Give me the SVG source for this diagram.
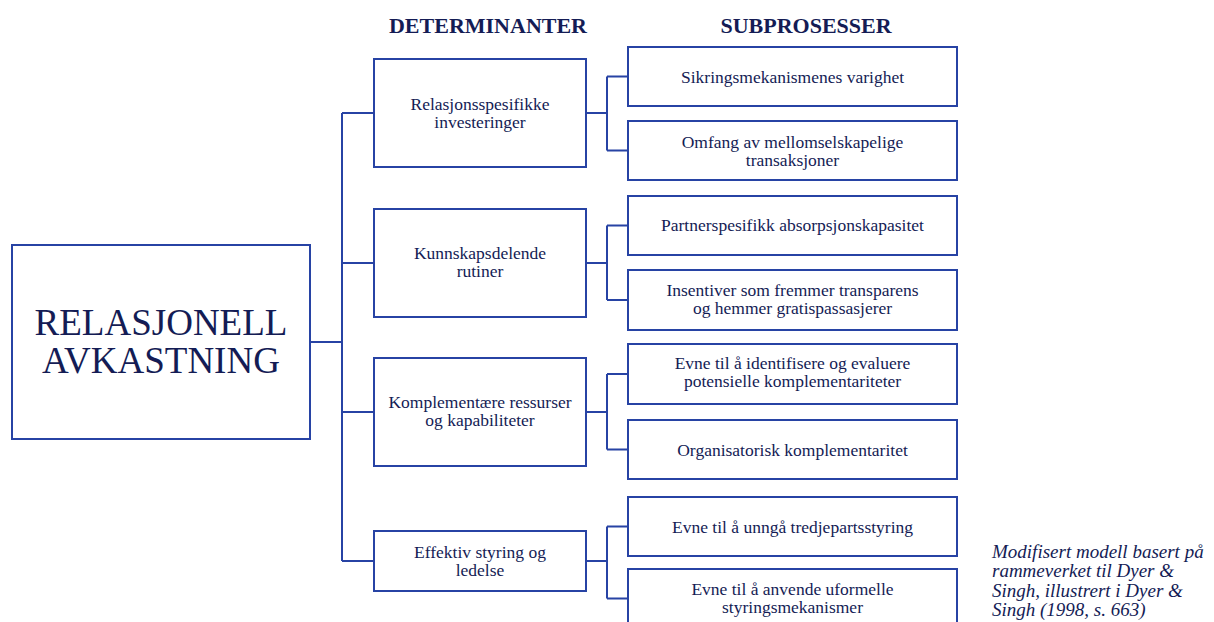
<svg xmlns="http://www.w3.org/2000/svg" width="1214" height="622" viewBox="0 0 1214 622">
<style>
.box{fill:#ffffff;stroke:#2743a4;stroke-width:2}
.ln{fill:none;stroke:#2743a4;stroke-width:2}
.t{font-family:"Liberation Serif","Tinos","Times New Roman","Nimbus Roman","DejaVu Serif",serif;font-size:17.5px;fill:#141c55;text-anchor:middle}
.h{font-family:"Liberation Serif","Tinos","Times New Roman","DejaVu Serif",serif;font-size:22px;font-weight:bold;fill:#141c55;text-anchor:middle}
.big{font-family:"Liberation Serif","Tinos","Times New Roman","DejaVu Serif",serif;font-size:37px;fill:#141c55;text-anchor:middle}
.cap{font-family:"Liberation Serif","Tinos","Times New Roman","DejaVu Serif",serif;font-size:19px;font-style:italic;fill:#141c55}
</style>
<rect width="1214" height="622" fill="#ffffff"/>
<text class="h" x="488" y="33">DETERMINANTER</text>
<text class="h" x="806" y="33">SUBPROSESSER</text>
<g id="connectors">
<path class="ln" d="M310,342H342M342,113V561M342,113H374M342,263H374M342,412H374M342,561H374"/>
<path class="ln" d="M586,113H607M607,76.5V150.5M607,76.5H628M607,150.5H628"/>
<path class="ln" d="M586,263H607M607,225.5V300M607,225.5H628M607,300H628"/>
<path class="ln" d="M586,412H607M607,374V449.5M607,374H628M607,449.5H628"/>
<path class="ln" d="M586,561H607M607,526.5V598.5M607,526.5H628M607,598.5H628"/>
</g>
<g id="main">
<rect class="box" x="12" y="245" width="298" height="194"/>
<text class="big" x="161" y="335">RELASJONELL</text>
<text class="big" x="161" y="373">AVKASTNING</text>
</g>
<g id="det1">
<rect class="box" x="374" y="59" width="212" height="108"/>
<text class="t" x="480" y="110">Relasjonsspesifikke</text>
<text class="t" x="480" y="128">investeringer</text>
</g>
<g id="det2">
<rect class="box" x="374" y="209" width="212" height="108"/>
<text class="t" x="480" y="259">Kunnskapsdelende</text>
<text class="t" x="480" y="277">rutiner</text>
</g>
<g id="det3">
<rect class="box" x="374" y="358" width="212" height="108"/>
<text class="t" x="480" y="408">Komplementære ressurser</text>
<text class="t" x="480" y="426">og kapabiliteter</text>
</g>
<g id="det4">
<rect class="box" x="374" y="531" width="212" height="60"/>
<text class="t" x="480" y="558">Effektiv styring og</text>
<text class="t" x="480" y="576">ledelse</text>
</g>
<g id="sub1">
<rect class="box" x="628" y="47" width="329" height="59"/>
<text class="t" x="792.5" y="83">Sikringsmekanismenes varighet</text>
</g>
<g id="sub2">
<rect class="box" x="628" y="121" width="329" height="59"/>
<text class="t" x="792.5" y="148">Omfang av mellomselskapelige</text>
<text class="t" x="792.5" y="166">transaksjoner</text>
</g>
<g id="sub3">
<rect class="box" x="628" y="196" width="329" height="59"/>
<text class="t" x="792.5" y="231">Partnerspesifikk absorpsjonskapasitet</text>
</g>
<g id="sub4">
<rect class="box" x="628" y="270" width="329" height="60"/>
<text class="t" x="792.5" y="296">Insentiver som fremmer transparens</text>
<text class="t" x="792.5" y="314">og hemmer gratispassasjerer</text>
</g>
<g id="sub5">
<rect class="box" x="628" y="344" width="329" height="60"/>
<text class="t" x="792.5" y="369">Evne til å identifisere og evaluere</text>
<text class="t" x="792.5" y="387">potensielle komplementariteter</text>
</g>
<g id="sub6">
<rect class="box" x="628" y="420" width="329" height="59"/>
<text class="t" x="792.5" y="456">Organisatorisk komplementaritet</text>
</g>
<g id="sub7">
<rect class="box" x="628" y="497" width="329" height="59"/>
<text class="t" x="792.5" y="533">Evne til å unngå tredjepartsstyring</text>
</g>
<g id="sub8">
<rect class="box" x="628" y="569" width="329" height="60"/>
<text class="t" x="792.5" y="595">Evne til å anvende uformelle</text>
<text class="t" x="792.5" y="613">styringsmekanismer</text>
</g>
<g id="caption">
<text class="cap" x="992" y="558">Modifisert modell basert på</text>
<text class="cap" x="992" y="577">rammeverket til Dyer &amp;</text>
<text class="cap" x="992" y="597">Singh, illustrert i Dyer &amp;</text>
<text class="cap" x="992" y="616">Singh (1998, s. 663)</text>
</g>
</svg>
